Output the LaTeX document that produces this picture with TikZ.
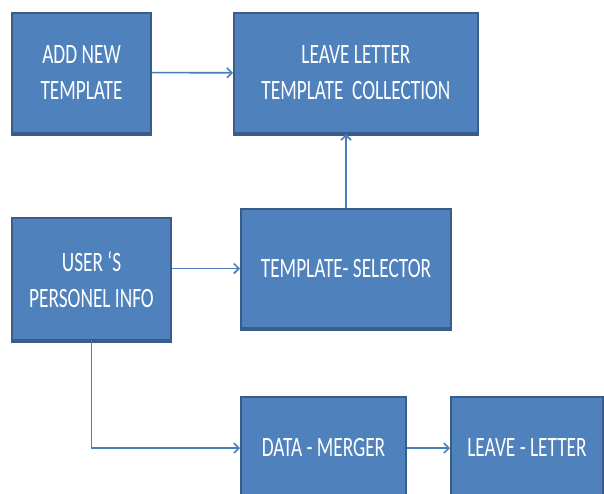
\documentclass[tikz,border=0pt]{standalone}
\usepackage{fontspec}
\setmainfont{Carlito}[FakeStretch=0.69]
\usepackage{tikz}
\usetikzlibrary{arrows.meta,positioning}

\definecolor{boxfill}{HTML}{4F81BD}
\definecolor{boxline}{HTML}{385D8A}
\definecolor{flowline}{HTML}{4A7EBB}

\begin{document}
\begin{tikzpicture}[
  x=1pt, y=-1pt,
  block/.style={rectangle, draw=boxline, fill=boxfill, line width=2pt, inner sep=0pt,
    text=white, align=center, font=\fontsize{28}{36}\selectfont,
    preaction={draw=boxline, line width=2pt, transform canvas={yshift=-2pt}}},
  flow/.style={-{Straight Barb[length=5pt,width=10pt]}, draw=flowline, line width=1.6pt}
]
\clip (0,0) rectangle (604,493);

\node[block, minimum width=139pt, minimum height=120pt] (addnew) at (81.5,72.5) {ADD NEW\\TEMPLATE};
\node[block, minimum width=244pt, minimum height=120pt] (collection) at (356,73) {LEAVE LETTER\\TEMPLATE\ \ COLLECTION};
\node[block, minimum width=159pt, minimum height=122pt] (userinfo) at (91.5,279) {USER `S\\PERSONEL INFO};
\node[block, minimum width=210pt, minimum height=119pt] (selector) at (346,268.5) {TEMPLATE- SELECTOR};
\node[block, minimum width=165pt, minimum height=102pt] (merger) at (323.5,448) {DATA - MERGER};
\node[block, minimum width=152pt, minimum height=102pt] (letter) at (527,448) {LEAVE - LETTER};

\draw[flow] (addnew) -- (collection);
\draw[flow] (selector.north) -- (selector.north |- collection.south);
\draw[flow] (userinfo.east |- selector) -- (selector.west);
\draw[flow] (userinfo.south) |- (merger.west);
\draw[flow] (merger) -- (letter);
\end{tikzpicture}
\end{document}
